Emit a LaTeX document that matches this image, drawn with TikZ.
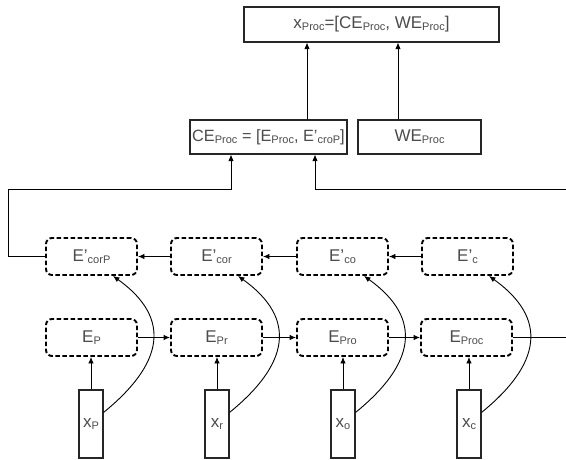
\documentclass[tikz,border=0pt]{standalone}
\usepackage{fontspec}
\setmainfont{Liberation Sans}
\usetikzlibrary{arrows.meta,calc}
\newcommand{\sbs}[1]{\raisebox{-1.8pt}{\fontsize{11}{11}\selectfont #1}}
\begin{document}
\begin{tikzpicture}[x=1pt,y=-1pt,
 lbl/.style={text=black!70,font=\fontsize{17}{17}\selectfont},
 solidbox/.style={lbl,draw=black!85,line width=1.1pt,fill=white,inner sep=0pt},
 dashbox/.style={lbl,draw=black,line width=1.9pt,dash pattern=on 4.5pt off 2.5pt,rounded corners=6pt,minimum width=91pt,minimum height=37pt,inner sep=0pt},
 inbox/.style={lbl,draw=black!85,line width=1.1pt,minimum width=24pt,minimum height=68pt,inner sep=0pt},
 arr/.style={-{Latex[length=6.5pt,width=5.5pt]},line width=0.9pt},
 line/.style={line width=0.9pt}
]
\useasboundingbox (0,0) rectangle (566,459);

\node[solidbox,minimum width=255pt,minimum height=35pt] (top) at (371.5,24.5) {x\sbs{Proc}=[CE\sbs{Proc}, WE\sbs{Proc}]};
\node[solidbox,minimum width=157pt,minimum height=34pt,font=\fontsize{16.3}{16.3}\selectfont] (CE) at (268.5,137) {CE\sbs{Proc} = [E\sbs{Proc}, E’\sbs{croP}]};
\node[solidbox,minimum width=123pt,minimum height=34pt] (WE) at (419.5,137) {WE\sbs{Proc}};

\node[dashbox] (Dp) at (91.5,256.5) {E’\sbs{corP}};
\node[dashbox] (Dr) at (216.5,256.5) {E’\sbs{cor}};
\node[dashbox] (Do) at (342.5,256.5) {E’\sbs{co}};
\node[dashbox] (Dc) at (467.5,256.5) {E’\sbs{c}};

\node[dashbox] (Ep) at (91.5,337.5) {E\sbs{P}};
\node[dashbox] (Er) at (216.5,337.5) {E\sbs{Pr}};
\node[dashbox] (Eo) at (342.5,337.5) {E\sbs{Pro}};
\node[dashbox] (Ec) at (466.5,337.5) {E\sbs{Proc}};

\node[inbox] (xp) at (91,424) {x\sbs{P}};
\node[inbox] (xr) at (217,424) {x\sbs{r}};
\node[inbox] (xo) at (343,424) {x\sbs{o}};
\node[inbox] (xc) at (469,424) {x\sbs{c}};

% top connections
\coordinate (a1) at (307,0);
\coordinate (a2) at (398,0);
\draw[arr] (CE.north -| a1) -- (top.south -| a1);
\draw[arr] (WE.north -| a2) -- (top.south -| a2);

% E' row leftwards
\draw[arr] (Dc.west) -- (Do.east);
\draw[arr] (Do.west) -- (Dr.east);
\draw[arr] (Dr.west) -- (Dp.east);

% E row rightwards
\draw[arr] (Ep.east) -- (Er.west);
\draw[arr] (Er.east) -- (Eo.west);
\draw[arr] (Eo.east) -- (Ec.west);

% x to E
\foreach \x/\e in {xp/Ep,xr/Er,xo/Eo,xc/Ec}{
  \draw[arr] (\x.north) -- (\x.north |- \e.south);
}
% curves x to E'
\foreach \x/\d in {xp/Dp,xr/Dr,xo/Do,xc/Dc}{
  \draw[arr] ($(\x.north east)+(0,23)$) .. controls +(59,-48) and +(60,43) .. ($(\d.south)+(21.5,0)$);
}

% left loop to CE
\coordinate (L) at (8,189);
\coordinate (b1) at (231,0);
\draw[arr] (Dp.west) -| (L) -| (CE.south -| b1);

% right connections
\coordinate (R1) at (570,337.5);
\coordinate (R2) at (570,189);
\coordinate (b2) at (315,0);
\draw[line] (Ec.east) -- (R1);
\draw[arr] (R2) -| (CE.south -| b2);
\end{tikzpicture}
\end{document}
